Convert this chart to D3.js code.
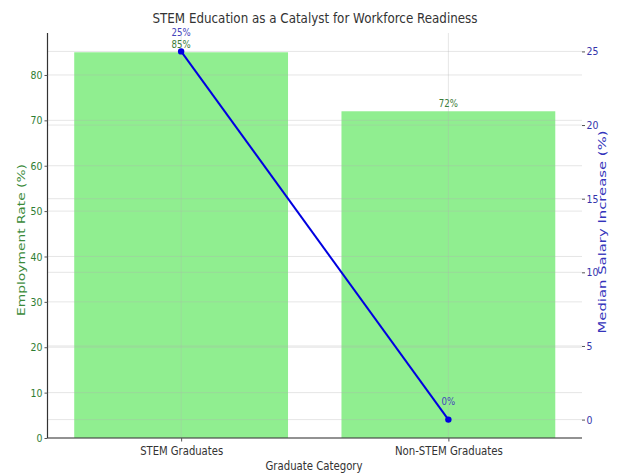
<!DOCTYPE html>
<html>
<head>
<meta charset="utf-8">
<script src="https://cdn.jsdelivr.net/npm/d3@7"></script>
<style>
  html, body { margin: 0; padding: 0; background: #fff; }
  svg text { font-family: "DejaVu Sans", sans-serif; }
</style>
</head>
<body>
<svg id="chart" width="619" height="474"></svg>
<script>
// Graduate categories and their two measures
const categories = ["STEM Graduates", "Non-STEM Graduates"];
const employmentRate = [85, 72];      // bars, left axis
const salaryIncrease = [25, 0];       // line, right axis
const leftTicks = [0, 10, 20, 30, 40, 50, 60, 70, 80];
const rightTicks = [0, 5, 10, 15, 20, 25];

const svg = d3.select("#chart");
const plot = { left: 47.5, right: 582, top: 33, bottom: 438 };

const x = d3.scaleLinear().domain([-0.5, 1.5]).range([plot.left, plot.right]);
const yL = d3.scaleLinear().domain([0, 89.25]).range([plot.bottom, plot.top]);
const yR = d3.scaleLinear().domain([-1.25, 26.25]).range([plot.bottom, plot.top]);
const barW = x(0.4) - x(-0.4);

// squeeze text horizontally to a given width (or by a factor)
function squeeze(sel, opts) {
  sel.each(function () {
    const n = this.getComputedTextLength();
    const w = opts.width != null ? opts.width : n * opts.k;
    d3.select(this).attr("textLength", w).attr("lengthAdjust", "spacingAndGlyphs");
  });
}

// bars
svg.append("g").selectAll("rect").data(categories).join("rect")
  .attr("x", (d, i) => x(i) - barW / 2)
  .attr("y", (d, i) => yL(employmentRate[i]))
  .attr("width", barW)
  .attr("height", (d, i) => yL(0) - yL(employmentRate[i]))
  .attr("fill", "#90ee90");

// grid lines drawn faintly over the bars
const grid = svg.append("g").attr("stroke", "#b0b0b0").attr("stroke-opacity", 0.4).attr("stroke-width", 0.8);
grid.selectAll(".gl").data(leftTicks).join("line")
  .attr("x1", plot.left).attr("x2", plot.right)
  .attr("y1", d => yL(d)).attr("y2", d => yL(d));
grid.selectAll(".gr").data(rightTicks).join("line")
  .attr("x1", plot.left).attr("x2", plot.right)
  .attr("y1", d => yR(d)).attr("y2", d => yR(d));
grid.selectAll(".gx").data(categories).join("line")
  .attr("x1", (d, i) => x(i)).attr("x2", (d, i) => x(i))
  .attr("y1", plot.top).attr("y2", plot.bottom);

// left axis
const axL = svg.append("g").attr("transform", `translate(${plot.left},0)`)
  .call(d3.axisLeft(yL).tickValues(leftTicks).tickSize(3).tickPadding(2));
axL.select(".domain").attr("stroke", "#333").attr("stroke-width", 1.2)
  .attr("d", `M0,${plot.top}V${plot.bottom}`);
axL.selectAll(".tick line").attr("stroke", "#555");
axL.selectAll(".tick text").attr("fill", "#2e7d32").attr("font-size", 11).call(squeeze, { k: 0.85 });

// right axis (no spine)
const axR = svg.append("g").attr("transform", `translate(${plot.right},0)`)
  .call(d3.axisRight(yR).tickValues(rightTicks).tickSize(3).tickPadding(1.5));
axR.select(".domain").remove();
axR.selectAll(".tick line").attr("stroke", "#555");
axR.selectAll(".tick text").attr("fill", "#3333aa").attr("font-size", 11).call(squeeze, { k: 0.85 });

// bottom axis
const axB = svg.append("g").attr("transform", `translate(0,${plot.bottom})`)
  .call(d3.axisBottom(x).tickValues([0, 1]).tickFormat(i => categories[i]).tickSize(3.5).tickPadding(5));
axB.select(".domain").attr("stroke", "#333").attr("stroke-width", 1.2)
  .attr("d", `M${plot.left},0H${plot.right}`);
axB.selectAll(".tick line").attr("stroke", "#555");
axB.selectAll(".tick text").attr("fill", "#333").attr("font-size", 12)
  .each(function (d, i) { squeeze(d3.select(this), { width: i === 0 ? 83 : 108 }); });

// salary increase line
const line = d3.line().x((d, i) => x(i)).y(d => yR(d));
svg.append("path").datum(salaryIncrease)
  .attr("d", line).attr("fill", "none").attr("stroke", "#0000e0").attr("stroke-width", 2);
svg.append("g").selectAll("circle").data(salaryIncrease).join("circle")
  .attr("cx", (d, i) => x(i)).attr("cy", d => yR(d)).attr("r", 3.2).attr("fill", "#0000e0");

// value labels
svg.append("g").selectAll("text").data(employmentRate).join("text")
  .attr("x", (d, i) => x(i)).attr("y", d => yL(d) - 4)
  .attr("text-anchor", "middle").attr("font-size", 10).attr("fill", "#3a7d3a")
  .text(d => d + "%").call(squeeze, { k: 0.86 });
svg.append("g").selectAll("text").data(salaryIncrease).join("text")
  .attr("x", (d, i) => x(i)).attr("y", d => yR(d) - 15)
  .attr("text-anchor", "middle").attr("font-size", 10).attr("fill", "#4444bb")
  .text(d => d + "%").call(squeeze, { k: 0.86 });

// title and axis titles
svg.append("text").attr("x", 315).attr("y", 23).attr("text-anchor", "middle")
  .attr("font-size", 14).attr("fill", "#333")
  .text("STEM Education as a Catalyst for Workforce Readiness").call(squeeze, { width: 325 });
svg.append("text").attr("x", 314).attr("y", 470).attr("text-anchor", "middle")
  .attr("font-size", 12).attr("fill", "#333")
  .text("Graduate Category").call(squeeze, { width: 97 });
// rotated titles: glyph height narrowed so the strokes stay slim across x
svg.append("text").attr("transform", "translate(25,240) rotate(-90) scale(1,0.8)")
  .attr("text-anchor", "middle").attr("font-size", 13).attr("fill", "#3a8a3a")
  .text("Employment Rate (%)").call(squeeze, { width: 152 });
svg.append("text").attr("transform", "translate(606,232) rotate(-90) scale(1,0.8)")
  .attr("text-anchor", "middle").attr("font-size", 13).attr("fill", "#3333bb")
  .text("Median Salary Increase (%)").call(squeeze, { width: 203 });
</script>
</body>
</html>
